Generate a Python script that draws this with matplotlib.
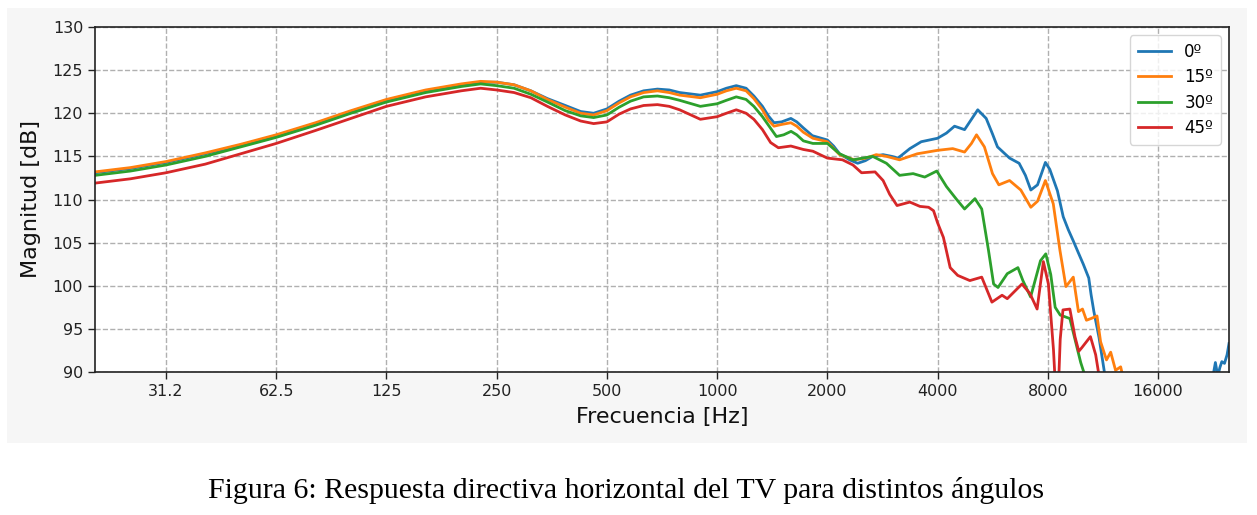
import matplotlib
matplotlib.use("Agg")
import matplotlib.pyplot as plt
from matplotlib.patches import Rectangle
from matplotlib.ticker import FixedLocator, FixedFormatter, NullLocator

# ---------------- data ----------------
f_0 = [20, 25, 31.25, 40, 50, 62.5, 80, 100, 125, 160, 200, 226, 250, 279, 310, 344, 385, 424,
       460, 500, 540, 580, 630, 687, 740, 790, 900, 1000, 1060, 1128, 1200, 1260, 1330, 1380,
       1430, 1500, 1590, 1650, 1720, 1820, 2000, 2080, 2160, 2300, 2420, 2540, 2660, 2840, 3000,
       3120, 3360, 3610, 4000, 4230, 4450, 4740, 4950, 5150, 5430, 5650, 5830, 6290, 6680, 6950,
       7190, 7500, 7880, 8100, 8500, 8815, 9100, 9390, 9700, 10000, 10350, 10500, 10690, 11040,
       11400, 11600, 12000, 22000, 22600, 22950, 23300, 23600, 23900, 24300, 24700, 25000]
db_0 = [113.1, 113.6, 114.3, 115.3, 116.3, 117.4, 118.8, 120.2, 121.5, 122.6, 123.3, 123.6, 123.6,
        123.3, 122.6, 121.7, 120.9, 120.2, 120.0, 120.5, 121.4, 122.1, 122.6, 122.8, 122.7, 122.4,
        122.1, 122.5, 122.9, 123.2, 122.9, 122.0, 120.8, 119.7, 118.9, 119.0, 119.4, 119.0, 118.3,
        117.4, 116.9, 116.2, 115.3, 114.6, 114.2, 114.5, 115.0, 115.2, 115.0, 114.8, 115.9, 116.7,
        117.1, 117.7, 118.5, 118.1, 119.3, 120.4, 119.4, 117.6, 116.1, 114.8, 114.2, 112.8, 111.1,
        111.7, 114.3, 113.5, 111.0, 108.0, 106.5, 105.2, 103.8, 102.5, 100.9, 99.0, 97.0, 94.0,
        90.2, 87.0, 85.0, 85.0, 89.5, 91.1, 89.5, 90.5, 91.2, 91.0, 92.0, 93.3]

f_15 = [20, 25, 31.25, 40, 50, 62.5, 80, 100, 125, 160, 200, 226, 250, 279, 310, 344, 385, 424,
        460, 500, 540, 580, 630, 687, 740, 790, 900, 1000, 1060, 1128, 1200, 1260, 1330, 1380,
        1430, 1500, 1590, 1650, 1720, 1826, 2000, 2160, 2370, 2550, 2720, 2900, 3150, 3520, 4000,
        4400, 4740, 4950, 5110, 5370, 5650, 5880, 6290, 6750, 7190, 7500, 7880, 8280, 8635, 8965,
        9390, 9700, 9950, 10200, 10500, 10900, 11150, 11570, 11880, 12250, 12650, 12900, 13500]
db_15 = [113.2, 113.7, 114.4, 115.4, 116.4, 117.5, 118.9, 120.3, 121.6, 122.7, 123.4, 123.7, 123.6,
         123.3, 122.6, 121.6, 120.7, 120.0, 119.8, 120.3, 121.2, 121.9, 122.4, 122.6, 122.4, 122.1,
         121.8, 122.2, 122.6, 122.9, 122.6, 121.7, 120.4, 119.2, 118.5, 118.7, 118.9, 118.5, 117.8,
         117.1, 116.7, 115.2, 114.6, 114.8, 115.2, 115.0, 114.6, 115.3, 115.7, 115.9, 115.5, 116.5,
         117.5, 116.1, 113.0, 111.7, 112.2, 111.1, 109.1, 109.8, 112.2, 109.5, 104.1, 99.9, 101.0,
         97.0, 97.3, 96.0, 96.2, 96.5, 93.5, 91.4, 92.3, 90.2, 90.6, 89.0, 85.0]

f_30 = [20, 25, 31.25, 40, 50, 62.5, 80, 100, 125, 160, 200, 226, 250, 279, 310, 344, 385, 424,
        460, 500, 540, 580, 630, 687, 740, 790, 900, 1000, 1060, 1128, 1200, 1260, 1330, 1452,
        1520, 1592, 1650, 1720, 1826, 2000, 2160, 2350, 2660, 2900, 3150, 3430, 3690, 3980, 4230,
        4510, 4740, 5060, 5280, 5510, 5690, 5850, 6200, 6630, 6840, 7180, 7640, 7900, 8150, 8380,
        8650, 9190, 9490, 9840, 10030, 10300]
db_30 = [112.8, 113.3, 114.0, 115.0, 116.1, 117.2, 118.6, 120.0, 121.3, 122.4, 123.1, 123.4, 123.2,
         122.9, 122.2, 121.3, 120.3, 119.7, 119.5, 119.8, 120.7, 121.4, 121.9, 122.0, 121.8, 121.5,
         120.8, 121.1, 121.5, 121.9, 121.6, 120.8, 119.6, 117.3, 117.5, 117.9, 117.5, 116.8, 116.5,
         116.5, 115.3, 114.6, 115.0, 114.2, 112.8, 113.0, 112.6, 113.3, 111.5, 110.0, 108.9, 110.1,
         108.9, 104.1, 100.2, 99.8, 101.4, 102.1, 100.6, 98.7, 102.9, 103.7, 101.3, 97.5, 96.6,
         96.2, 93.8, 91.1, 90.0, 87.0]

f_45 = [20, 25, 31.25, 40, 50, 62.5, 80, 100, 125, 160, 200, 226, 250, 279, 310, 344, 385, 424,
        460, 500, 540, 580, 630, 687, 740, 790, 900, 1000, 1060, 1128, 1200, 1260, 1330, 1400,
        1470, 1590, 1720, 1826, 2000, 2200, 2350, 2480, 2700, 2840, 2960, 3100, 3360, 3580, 3780,
        3900, 4000, 4150, 4330, 4540, 4900, 5280, 5630, 6000, 6200, 6800, 7150, 7480, 7780, 8030,
        8290, 8450, 8550, 8650, 8800, 9190, 9490, 9720, 9900, 10240, 10460, 10810, 11000, 11300]
db_45 = [111.9, 112.4, 113.1, 114.1, 115.3, 116.5, 118.0, 119.4, 120.8, 121.9, 122.6, 122.9, 122.7,
         122.4, 121.8, 120.8, 119.8, 119.1, 118.8, 119.0, 119.9, 120.5, 120.9, 121.0, 120.8, 120.4,
         119.3, 119.6, 120.0, 120.4, 120.0, 119.3, 118.1, 116.6, 116.0, 116.2, 115.8, 115.6, 114.8,
         114.6, 114.0, 113.1, 113.2, 112.2, 110.6, 109.3, 109.7, 109.2, 109.1, 108.7, 107.3, 105.6,
         102.1, 101.2, 100.6, 101.0, 98.1, 98.9, 98.5, 100.2, 99.1, 97.3, 102.8, 100.2, 92.6, 86.0,
         88.0, 93.8, 97.2, 97.3, 94.1, 92.4, 92.8, 93.6, 94.1, 92.0, 90.0, 86.0]

series = [(f_0, db_0, "0º"), (f_15, db_15, "15º"), (f_30, db_30, "30º"), (f_45, db_45, "45º")]
colors = ["#1f77b4", "#ff7f0e", "#2ca02c", "#d62728"]

xticks = [31.25, 62.5, 125, 250, 500, 1000, 2000, 4000, 8000, 16000]
xtick_labels = ["31.2", "62.5", "125", "250", "500", "1000", "2000", "4000", "8000", "16000"]
yticks = [90, 95, 100, 105, 110, 115, 120, 125, 130]

# ---------------- figure ----------------
W, H = 1257, 515
fig = plt.figure(figsize=(W / 100, H / 100), dpi=100, facecolor="white")

# grey panel behind the chart (as in the embedded image)
fig.patches.append(Rectangle((7 / W, 1 - 443 / H), (1247 - 7) / W, (443 - 8) / H,
                             transform=fig.transFigure, facecolor="#f6f6f6",
                             edgecolor="none", zorder=-10))

ax = fig.add_axes([95 / W, 1 - 372 / H, (1229 - 95) / W, (372 - 27) / H])
ax.set_zorder(5)
ax.set_facecolor("white")

for (fx, vy, lab), c in zip(series, colors):
    ax.plot(fx, vy, color=c, lw=2.0, label=lab)

ax.set_xscale("log")
ax.set_xlim(20, 25000)
ax.set_ylim(90, 130)
ax.xaxis.set_major_locator(FixedLocator(xticks))
ax.xaxis.set_major_formatter(FixedFormatter(xtick_labels))
ax.xaxis.set_minor_locator(NullLocator())
ax.set_yticks(yticks)
ax.tick_params(axis="both", labelsize=11.5, length=5, width=1, colors="#222222")
for lab in ax.get_xticklabels() + ax.get_yticklabels():
    lab.set_color("#222222")
for s in ax.spines.values():
    s.set_color("#222222")
    s.set_linewidth(1.2)

ax.grid(True, which="major", linestyle="--", color="#b0b0b0", linewidth=1.0)
ax.set_axisbelow(True)

ax.set_xlabel("Frecuencia [Hz]", fontsize=16, color="#111111", labelpad=6)
ax.set_ylabel("Magnitud [dB]", fontsize=16, color="#111111", labelpad=8)

leg = ax.legend(loc="upper right", fontsize=12, frameon=True, framealpha=0.8,
                edgecolor="#cccccc", handlelength=2.0, borderpad=0.45, labelspacing=0.45)

fig.text(626 / W, 1 - 490 / H,
         "Figura 6: Respuesta directiva horizontal del TV para distintos ángulos",
         ha="center", va="center", fontsize=21.5, family="Liberation Serif", color="black")

fig.savefig("out.png", dpi=100, facecolor="white")
